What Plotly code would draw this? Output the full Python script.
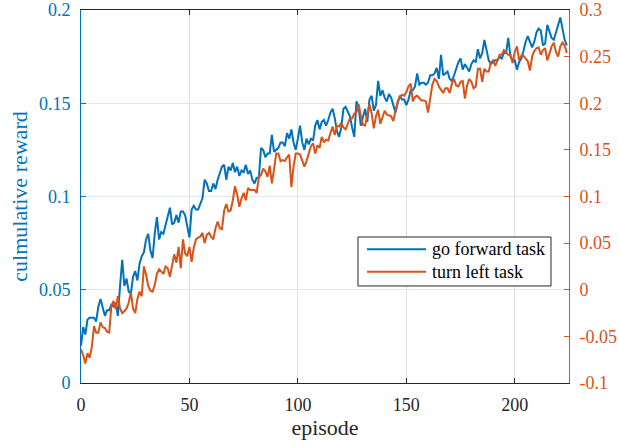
import plotly.graph_objects as go

episodes = list(range(225))

go_forward = [
    0.020, 0.030, 0.026, 0.034, 0.035, 0.035, 0.035, 0.033, 0.041, 0.045,
    0.041, 0.036, 0.039, 0.039, 0.042, 0.041, 0.043, 0.036, 0.052, 0.066,
    0.052, 0.056, 0.049, 0.048, 0.057, 0.060, 0.055, 0.064, 0.068, 0.070,
    0.077, 0.080, 0.071, 0.067, 0.080, 0.089, 0.077, 0.081, 0.080, 0.085,
    0.089, 0.094, 0.085, 0.086, 0.090, 0.086, 0.092, 0.092, 0.090, 0.084,
    0.078, 0.093, 0.095, 0.093, 0.093, 0.096, 0.099, 0.109, 0.107, 0.103,
    0.103, 0.107, 0.104, 0.109, 0.112, 0.116, 0.117, 0.109, 0.116, 0.114,
    0.118, 0.113, 0.116, 0.111, 0.114, 0.113, 0.117, 0.112, 0.114, 0.109,
    0.107, 0.110, 0.110, 0.126, 0.125, 0.121, 0.123, 0.123, 0.133, 0.124,
    0.125, 0.126, 0.129, 0.129, 0.127, 0.134, 0.131, 0.136, 0.129, 0.125,
    0.131, 0.138, 0.129, 0.125, 0.131, 0.128, 0.131, 0.130, 0.138, 0.141,
    0.136, 0.140, 0.141, 0.138, 0.141, 0.145, 0.147, 0.142, 0.135, 0.132,
    0.137, 0.147, 0.148, 0.145, 0.143, 0.137, 0.132, 0.151, 0.148, 0.138,
    0.142, 0.147, 0.140, 0.152, 0.154, 0.146, 0.149, 0.162, 0.154, 0.157,
    0.153, 0.151, 0.155, 0.153, 0.149, 0.145, 0.150, 0.154, 0.152, 0.152,
    0.149, 0.152, 0.157, 0.157, 0.159, 0.166, 0.160, 0.161, 0.161, 0.160,
    0.161, 0.165, 0.165, 0.166, 0.169, 0.163, 0.176, 0.165, 0.166, 0.167,
    0.163, 0.162, 0.165, 0.169, 0.172, 0.174, 0.168, 0.171, 0.169, 0.167,
    0.171, 0.173, 0.172, 0.179, 0.174, 0.177, 0.184, 0.179, 0.173, 0.171,
    0.172, 0.173, 0.173, 0.175, 0.174, 0.177, 0.177, 0.185, 0.175, 0.173,
    0.173, 0.168, 0.172, 0.174, 0.178, 0.183, 0.186, 0.183, 0.180, 0.183,
    0.188, 0.190, 0.189, 0.181, 0.182, 0.192, 0.189, 0.185, 0.184, 0.188,
    0.192, 0.196, 0.190, 0.184, 0.181,
]

turn_left = [
    -0.064, -0.070, -0.079, -0.068, -0.073, -0.061, -0.039, -0.046, -0.046, -0.035,
    -0.040, -0.041, -0.045, -0.046, -0.018, -0.012, -0.021, -0.007, -0.020, -0.025,
    -0.023, -0.020, -0.014, -0.003, -0.020, -0.025, -0.010, -0.002, -0.007, 0.025,
    0.016, 0.004, -0.001, -0.002, 0.005, 0.017, 0.022, 0.020, 0.017, 0.025,
    0.023, 0.014, 0.027, 0.038, 0.029, 0.046, 0.023, 0.054, 0.039, 0.036,
    0.046, 0.030, 0.045, 0.054, 0.056, 0.057, 0.061, 0.050, 0.059, 0.061,
    0.057, 0.054, 0.066, 0.073, 0.066, 0.065, 0.085, 0.092, 0.084, 0.085,
    0.096, 0.111, 0.102, 0.089, 0.098, 0.104, 0.096, 0.109, 0.107, 0.107,
    0.107, 0.104, 0.121, 0.123, 0.130, 0.127, 0.121, 0.133, 0.114, 0.129,
    0.146, 0.146, 0.138, 0.139, 0.138, 0.142, 0.145, 0.110, 0.132, 0.146,
    0.146, 0.145, 0.139, 0.132, 0.138, 0.145, 0.154, 0.157, 0.146, 0.155,
    0.152, 0.164, 0.158, 0.161, 0.160, 0.168, 0.175, 0.166, 0.176, 0.175,
    0.179, 0.174, 0.172, 0.178, 0.184, 0.184, 0.189, 0.190, 0.199, 0.187,
    0.177, 0.176, 0.186, 0.199, 0.189, 0.173, 0.186, 0.193, 0.178, 0.185,
    0.192, 0.188, 0.187, 0.186, 0.181, 0.193, 0.202, 0.207, 0.209, 0.208,
    0.212, 0.218, 0.221, 0.202, 0.207, 0.208, 0.206, 0.203, 0.203, 0.202,
    0.190, 0.203, 0.220, 0.226, 0.224, 0.218, 0.214, 0.211, 0.216, 0.216,
    0.211, 0.221, 0.226, 0.219, 0.218, 0.223, 0.224, 0.205, 0.219, 0.226,
    0.223, 0.216, 0.218, 0.237, 0.237, 0.223, 0.237, 0.234, 0.234, 0.244,
    0.246, 0.240, 0.246, 0.252, 0.252, 0.257, 0.254, 0.252, 0.252, 0.243,
    0.255, 0.261, 0.246, 0.251, 0.251, 0.248, 0.245, 0.235, 0.250, 0.256,
    0.259, 0.260, 0.252, 0.257, 0.259, 0.246, 0.254, 0.261, 0.265, 0.255,
    0.250, 0.261, 0.265, 0.262, 0.254,
]

series_names = ["go forward task", "turn left task"]
x_ticks = [0, 50, 100, 150, 200]
left_ticks = [0, 0.05, 0.1, 0.15, 0.2]
left_labels = ["0", "0.05", "0.1", "0.15", "0.2"]
right_ticks = [-0.1, -0.05, 0, 0.05, 0.1, 0.15, 0.2, 0.25, 0.3]
right_labels = ["-0.1", "-0.05", "0", "0.05", "0.1", "0.15", "0.2", "0.25", "0.3"]

BLUE = "#0072BD"
ORANGE = "#D95319"
DARK = "#262626"
FONT = "Liberation Serif, Times New Roman, serif"
colors = [BLUE, ORANGE]

fig = go.Figure()
fig.add_trace(go.Scatter(x=episodes, y=go_forward, mode="lines", name=series_names[0],
                         line=dict(color=BLUE, width=2), yaxis="y"))
fig.add_trace(go.Scatter(x=episodes, y=turn_left, mode="lines", name=series_names[1],
                         line=dict(color=ORANGE, width=2), yaxis="y2"))

# legend box drawn as layout decoration (paper coordinates)
shapes = [dict(type="rect", xref="paper", yref="paper", x0=0.5676, x1=0.9631,
               y0=0.2601, y1=0.3914, line=dict(color=DARK, width=1),
               fillcolor="white", layer="above")]
annotations = []
row_y = [0.3584, 0.2984]
for name, col, yy in zip(series_names, colors, row_y):
    shapes.append(dict(type="line", xref="paper", yref="paper", x0=0.5861, x1=0.7070,
                       y0=yy, y1=yy, line=dict(color=col, width=2), layer="above"))
    annotations.append(dict(text=name, xref="paper", yref="paper", x=0.7152, y=yy,
                            xanchor="left", yanchor="middle", showarrow=False,
                            font=dict(family=FONT, size=18, color="black")))

fig.update_layout(
    width=619, height=447,
    margin=dict(l=81, r=50, t=10, b=64, autoexpand=False),
    paper_bgcolor="white", plot_bgcolor="white",
    font=dict(family=FONT, size=18, color=DARK),
    showlegend=False,
    shapes=shapes, annotations=annotations,
    xaxis=dict(range=[0, 225], tickvals=x_ticks, ticks="inside", ticklen=5,
               tickcolor=DARK, showline=True, linecolor=DARK, linewidth=1,
               mirror="ticks", showgrid=True, gridcolor="#DFDFDF", zeroline=False,
               tickfont=dict(family=FONT, size=18, color=DARK),
               ticklabelstandoff=5,
               title=dict(text="episode", font=dict(family=FONT, size=22, color=DARK),
                          standoff=6)),
    yaxis=dict(range=[0, 0.2], tickvals=left_ticks, ticktext=left_labels,
               ticks="inside", ticklen=5, tickcolor=BLUE, showline=True,
               linecolor=BLUE, linewidth=1, showgrid=True, gridcolor="#DAE9F5",
               zeroline=False, tickfont=dict(family=FONT, size=18, color=BLUE),
               ticklabelstandoff=6,
               title=dict(text="culmulative reward",
                          font=dict(family=FONT, size=22, color=BLUE), standoff=5)),
    yaxis2=dict(range=[-0.1, 0.3], tickvals=right_ticks, ticktext=right_labels,
                overlaying="y", side="right", ticks="inside", ticklen=5,
                tickcolor=ORANGE, showline=True, linecolor=ORANGE, linewidth=1,
                showgrid=False, zeroline=False,
                tickfont=dict(family=FONT, size=18, color=ORANGE),
                ticklabelstandoff=6),
)

fig.write_html("out.html", config={"displayModeBar": False},
               post_script="document.body.style.margin='0px';")
